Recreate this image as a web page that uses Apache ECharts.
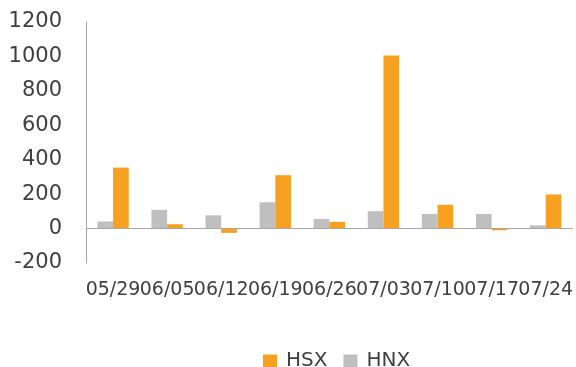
<!DOCTYPE html>
<html>
<head>
<meta charset="utf-8">
<script src="https://cdn.jsdelivr.net/npm/echarts@6/dist/echarts.min.js"></script>
<style>
  html, body { margin: 0; padding: 0; background: #fff; }
  #chart { width: 576px; height: 367px; }
</style>
</head>
<body>
<div id="chart"></div>
<script>
// Weekly net values by exchange
const weeks = ['05/29', '06/05', '06/12', '06/19', '06/26', '07/03', '07/10', '07/17', '07/24'];
const hsx = [354, 25, -25, 310, 39, 1005, 138, -10, 198];
const hnx = [41, 109, 77, 153, 56, 101, 85, 85, 19];
const yTicks = { min: -200, max: 1200, step: 200 };

const textColor = '#404040';
const axisColor = '#A6A6A6';

const chart = echarts.init(document.getElementById('chart'), null, { renderer: 'canvas' });
chart.setOption({
  animation: false,
  textStyle: { fontFamily: 'DejaVu Sans' },
  grid: { left: 86, right: 2, top: 22, bottom: 104 },
  legend: {
    data: ['HSX', 'HNX'],
    top: 346,
    left: 263,
    padding: 0,
    icon: 'rect',
    itemWidth: 14,
    itemHeight: 13,
    itemGap: 16,
    textStyle: {
      fontSize: 20,
      lineHeight: 30,
      color: textColor,
      fontFamily: 'DejaVu Sans',
      padding: [0, 0, 0, 4]
    }
  },
  xAxis: {
    type: 'category',
    data: weeks,
    axisLine: { show: false, onZero: false },
    axisTick: { show: false },
    axisLabel: { color: textColor, fontSize: 19, margin: 18, interval: 0, fontFamily: 'DejaVu Sans' }
  },
  yAxis: {
    type: 'value',
    min: yTicks.min,
    max: yTicks.max,
    interval: yTicks.step,
    axisLine: { show: true, lineStyle: { color: axisColor, width: 1 } },
    axisTick: { show: false },
    splitLine: { show: false },
    axisLabel: {
      color: textColor,
      fontSize: 21,
      margin: 24,
      padding: [4, 0, 0, 0],
      fontFamily: 'DejaVu Sans',
      formatter: (v) => String(v)
    }
  },
  series: [
    {
      name: 'HNX',
      type: 'bar',
      data: hnx,
      barGap: '0%',
      barCategoryGap: '42%',
      itemStyle: { color: '#BFBFBF' },
      markLine: {
        silent: true,
        symbol: 'none',
        label: { show: false },
        lineStyle: { color: axisColor, width: 1, type: 'solid' },
        data: [{ yAxis: 0 }]
      }
    },
    {
      name: 'HSX',
      type: 'bar',
      data: hsx,
      barGap: '0%',
      barCategoryGap: '42%',
      itemStyle: { color: '#F7A021' }
    }
  ]
});
</script>
</body>
</html>
